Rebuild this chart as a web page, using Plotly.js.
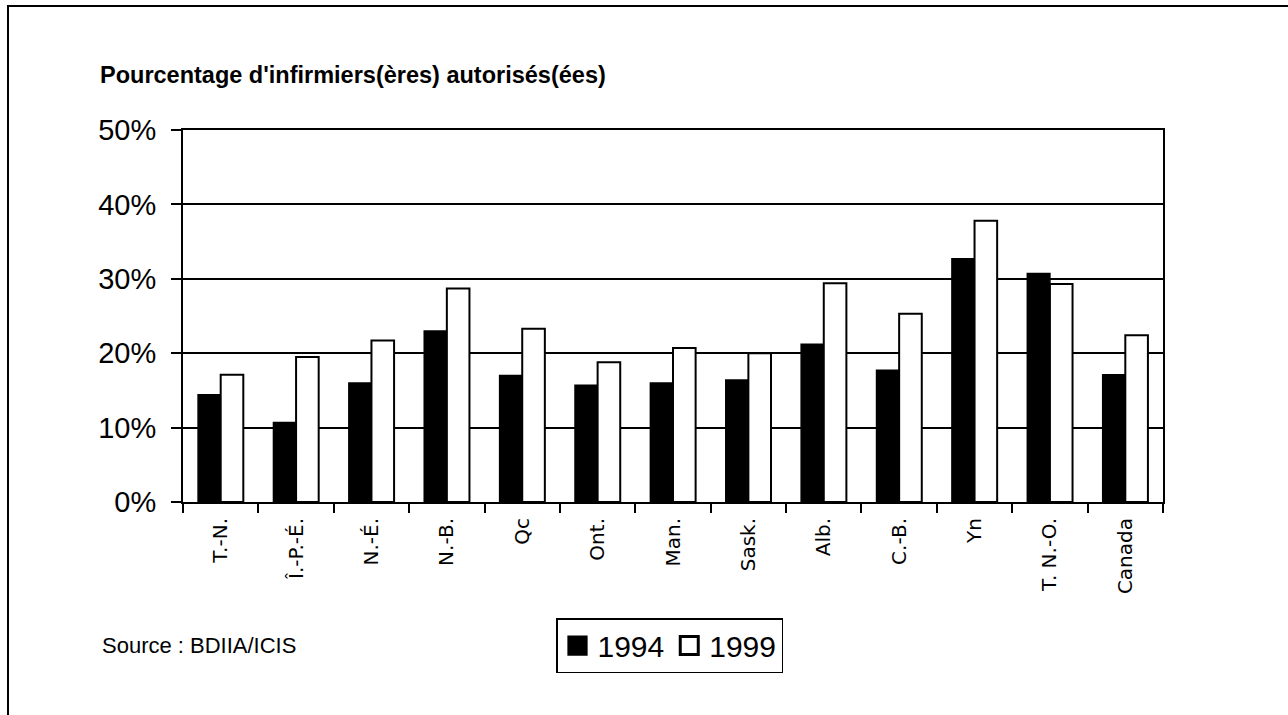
<!DOCTYPE html>
<html>
<head>
<meta charset="utf-8">
<script src="https://cdn.plot.ly/plotly-3.0.1.min.js"></script>
<style>
  html, body { margin: 0; padding: 0; background: #fff; }
  #chart { width: 1288px; height: 715px; }
  #chart .legend .legendpoints path { transform: translate(20px, 0px) scale(1.5); }
</style>
</head>
<body>
<div id="chart"></div>
<script>
const categories = ["T.-N.", "Î.-P.-É.", "N.-É.", "N.-B.", "Qc", "Ont.", "Man.", "Sask.", "Alb.", "C.-B.", "Yn", "T. N.-O.", "Canada"];
const values1994 = [0.144, 0.107, 0.160, 0.230, 0.170, 0.157, 0.160, 0.164, 0.212, 0.177, 0.327, 0.307, 0.171];
const values1999 = [0.171, 0.195, 0.217, 0.287, 0.233, 0.188, 0.207, 0.200, 0.294, 0.253, 0.378, 0.293, 0.224];
const seriesNames = ["1994", "1999"];
const yTickVals = [0, 0.1, 0.2, 0.3, 0.4, 0.5];
const yTickText = ["0%", "10%", "20%", "30%", "40%", "50%"];

const FONT = '"Liberation Sans", Arial, Helvetica, sans-serif';
const FONT2 = '"DejaVu Sans", "Liberation Sans", Arial, sans-serif';

const traces = [
  {
    type: 'bar', name: seriesNames[0], x: categories, y: values1994,
    marker: { color: '#000', line: { color: '#000', width: 1.5 } }
  },
  {
    type: 'bar', name: seriesNames[1], x: categories, y: values1999,
    marker: { color: '#fff', line: { color: '#000', width: 2 } }
  }
];

const layout = {
  width: 1288, height: 715,
  margin: { l: 183, r: 125, t: 130, b: 213 },
  paper_bgcolor: '#fff', plot_bgcolor: '#fff',
  font: { family: FONT, color: '#000' },
  barmode: 'group', bargap: 0.4, bargroupgap: 0,
  showlegend: true,
  title: {
    text: "<b>Pourcentage d'infirmiers(ères) autorisés(ées)</b>",
    font: { size: 23.5, family: FONT, color: '#000' },
    x: 100 / 1288, xanchor: 'left', xref: 'container',
    y: 1 - 75 / 715, yanchor: 'middle', yref: 'container'
  },
  xaxis: {
    type: 'category', tickangle: -90,
    tickfont: { size: 20, family: FONT2 },
    ticks: 'outside', tickson: 'boundaries', ticklen: 9, tickwidth: 2, tickcolor: '#000',
    ticklabelstandoff: 6,
    showline: true, linecolor: '#000', linewidth: 2, mirror: true,
    showgrid: false, zeroline: false, fixedrange: true
  },
  yaxis: {
    range: [0, 0.5], tickvals: yTickVals, ticktext: yTickText,
    tickfont: { size: 29, family: FONT },
    ticks: 'outside', ticklen: 10, tickwidth: 2, tickcolor: '#000',
    ticklabelstandoff: 9,
    showline: true, linecolor: '#000', linewidth: 2, mirror: true,
    showgrid: true, gridcolor: '#000', gridwidth: 2,
    zeroline: false, fixedrange: true
  },
  legend: {
    orientation: 'h', x: (556 - 183) / 980, xanchor: 'left',
    y: (502 - 618) / 372, yanchor: 'top',
    bordercolor: '#000', borderwidth: 1.5, bgcolor: '#fff',
    font: { size: 30, family: FONT },
    itemwidth: 30, tracegroupgap: 0
  },
  annotations: [
    {
      text: 'Source : BDIIA/ICIS', xref: 'paper', yref: 'paper',
      x: (100 - 183) / 980, y: (502 - 645) / 372, xanchor: 'left', yanchor: 'middle',
      showarrow: false, font: { size: 22, family: FONT }
    }
  ],
  shapes: [
    {
      type: 'rect', xref: 'paper', yref: 'paper', layer: 'below',
      x0: (8 - 183) / 980, x1: (1310 - 183) / 980,
      y0: (502 - 740) / 372, y1: (502 - 6) / 372,
      line: { color: '#000', width: 2 }, fillcolor: 'rgba(0,0,0,0)'
    }
  ]
};

Plotly.newPlot('chart', traces, layout, { displayModeBar: false, staticPlot: true });
</script>
</body>
</html>
